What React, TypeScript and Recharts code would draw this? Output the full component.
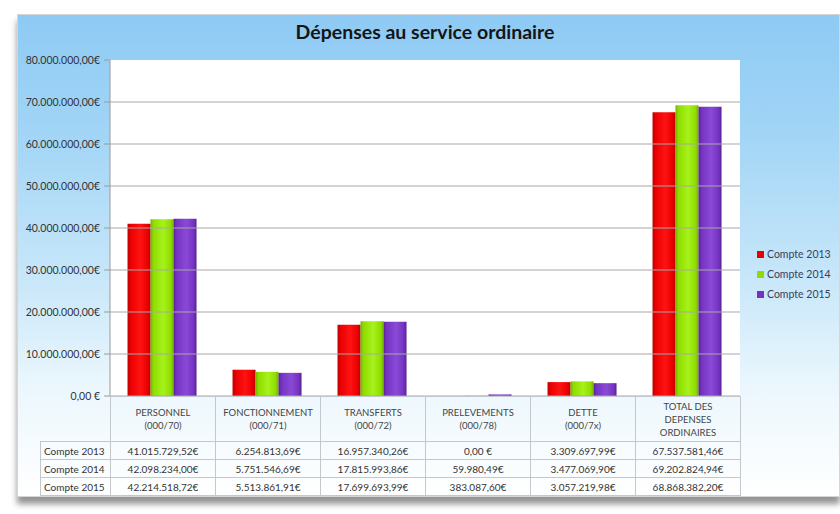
import { Bar, BarChart, CartesianGrid, ReferenceLine, XAxis, YAxis } from 'recharts';

const categories = [
  ['PERSONNEL', '(000/70)'],
  ['FONCTIONNEMENT', '(000/71)'],
  ['TRANSFERTS', '(000/72)'],
  ['PRELEVEMENTS', '(000/78)'],
  ['DETTE', '(000/7x)'],
  ['TOTAL DES', 'DEPENSES', 'ORDINAIRES'],
];
const seriesNames = ['Compte 2013', 'Compte 2014', 'Compte 2015'];
const compte2013 = [41015729.52, 6254813.69, 16957340.26, 0, 3309697.99, 67537581.46];
const compte2014 = [42098234.0, 5751546.69, 17815993.86, 59980.49, 3477069.9, 69202824.94];
const compte2015 = [42214518.72, 5513861.91, 17699693.99, 383087.6, 3057219.98, 68868382.2];
const yTicks = [0, 10000000, 20000000, 30000000, 40000000, 50000000, 60000000, 70000000, 80000000];

const seriesValues = [compte2013, compte2014, compte2015];
const colors = [
  { id: 'gRed', edge: '#b80000', mid: '#ff1212', base: '#e80000', top: '#ff5a5a' },
  { id: 'gGreen', edge: '#6fb000', mid: '#a6f21c', base: '#8fdc00', top: '#d4ff5a' },
  { id: 'gPurple', edge: '#55218f', mid: '#8a4ad8', base: '#7433bf', top: '#b07ae8' },
];

const data = categories.map((c, i) => ({
  name: c.join(' '),
  s0: compte2013[i],
  s1: compte2014[i],
  s2: compte2015[i],
}));

const FONT = 'Lato, "Open Sans", sans-serif';

function euro(v: number) {
  const [int, dec] = v.toFixed(2).split('.');
  const grouped = int.replace(/\B(?=(\d{3})+(?!\d))/g, '.');
  return `${grouped},${dec}€`;
}

const borderC = '#c4c8cc';

export default function App() {
  return (
    <div style={{ position: 'fixed', left: 0, top: 0, width: 840, height: 514, background: '#fff', fontFamily: FONT, overflow: 'hidden' }}>
      <div
        style={{
          position: 'absolute',
          left: 17,
          top: 14,
          width: 823,
          height: 483,
          border: '1px solid #d6d6d6',
          boxSizing: 'border-box',
          background: 'linear-gradient(180deg, #8ecaf4 0%, #a2d5f6 25%, #c8e7f9 55%, #ecf7fd 78%, #ffffff 100%)',
          boxShadow: '0 7px 6px rgba(60,60,60,0.55)',
        }}
      >
        <div style={{ position: 'absolute', left: 92, width: 630, top: 5, textAlign: 'center', fontSize: 19.5, fontWeight: 700, color: '#151515' }}>
          Dépenses au service ordinaire
        </div>
        <BarChart
          width={823}
          height={483}
          data={data}
          margin={{ top: 45, right: 101, left: 0, bottom: 102 }}
          barCategoryGap="16.7%"
          barGap={0}
        >
          <defs>
            {colors.map((c) => (
              <linearGradient key={c.id} id={c.id} x1="0" y1="0" x2="1" y2="0">
                <stop offset="0%" stopColor={c.edge} />
                <stop offset="12%" stopColor={c.base} />
                <stop offset="55%" stopColor={c.mid} />
                <stop offset="88%" stopColor={c.base} />
                <stop offset="100%" stopColor={c.edge} />
              </linearGradient>
            ))}
          </defs>
          <CartesianGrid vertical={false} horizontal={false} fill="#ffffff" />
          {yTicks.slice(0, -1).map((t) => (
            <ReferenceLine key={t} y={t} stroke="#a8a8a8" />
          ))}
          <XAxis dataKey="name" hide />
          <YAxis
            width={92}
            domain={[0, 80000000]}
            ticks={yTicks}
            interval={0}
            tickFormatter={(v: number) => (v === 0 ? '0,00 €' : euro(v))}
            tick={{ fontSize: 10.5, fill: '#333', fontFamily: FONT }}
            tickSize={6}
            tickMargin={4}
            stroke="#9a9a9a"
          />
          {seriesValues.map((_, i) => (
            <Bar key={i} dataKey={`s${i}`} name={seriesNames[i]} fill={`url(#${colors[i].id})`} stroke={colors[i].top} strokeWidth={0} isAnimationActive={false} />
          ))}
        </BarChart>

        <div style={{ position: 'absolute', left: 739, top: 229 }}>
          {seriesNames.map((n, i) => (
            <div key={n} style={{ display: 'flex', alignItems: 'center', height: 20, fontSize: 10.5, color: '#3a3d5c' }}>
              <span style={{ display: 'inline-block', width: 7, height: 7, background: colors[i].base, marginRight: 3 }} />
              {n}
            </div>
          ))}
        </div>

        <table
          style={{
            position: 'absolute',
            left: 22,
            top: 381,
            borderCollapse: 'collapse',
            tableLayout: 'fixed',
            width: 700,
            fontSize: 10,
            color: '#333',
          }}
        >
          <colgroup>
            <col style={{ width: 70 }} />
            {categories.map((_, i) => (
              <col key={i} style={{ width: 105 }} />
            ))}
          </colgroup>
          <tbody>
            <tr style={{ height: 45 }}>
              <td style={{ padding: 0 }} />
              {categories.map((c, i) => (
                <td key={i} style={{ border: `1px solid ${borderC}`, textAlign: 'center', padding: 0, lineHeight: '13px', fontSize: 9.5, color: '#444' }}>
                  {c.map((l) => (
                    <div key={l}>{l}</div>
                  ))}
                </td>
              ))}
            </tr>
            {seriesValues.map((vals, r) => (
              <tr key={r} style={{ height: 18 }}>
                <td style={{ border: `1px solid ${borderC}`, padding: '0 0 0 3px', whiteSpace: 'nowrap' }}>{seriesNames[r]}</td>
                {vals.map((v, i) => (
                  <td key={i} style={{ border: `1px solid ${borderC}`, textAlign: 'center', padding: 0 }}>
                    {v === 0 ? '0,00 €' : euro(v)}
                  </td>
                ))}
              </tr>
            ))}
          </tbody>
        </table>
      </div>
    </div>
  );
}
